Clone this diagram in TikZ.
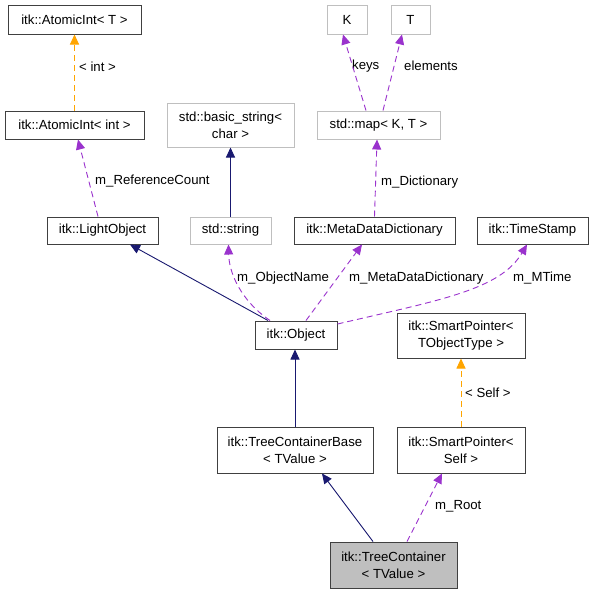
\documentclass[tikz,border=0pt]{standalone}
\usepackage{fontspec}
\setmainfont{Liberation Sans}
\usetikzlibrary{arrows.meta}
\definecolor{EdgeBlue}{HTML}{191970}
\definecolor{EdgePurple}{HTML}{9A32CD}
\definecolor{EdgeOrange}{HTML}{FFA500}
\definecolor{BoxGray}{HTML}{BFBFBF}
\definecolor{BoxEdge}{HTML}{404040}

\tikzset{
  cls/.style={draw=BoxEdge, line width=1pt, fill=white, align=center, inner sep=0pt,
    font=\fontsize{13.2}{17}\selectfont},
  ext/.style={cls, draw=BoxGray},
  inherit/.style={draw=EdgeBlue, line width=0.9pt, -{Triangle[length=10pt,width=9pt,fill=EdgeBlue]}},
  usage/.style={draw=EdgePurple, line width=0.9pt, dash pattern=on 6pt off 4pt,
    -{Triangle[length=10pt,width=9pt,fill=EdgePurple]}},
  tmpl/.style={draw=EdgeOrange, line width=0.9pt, dash pattern=on 6pt off 4pt,
    -{Triangle[length=10pt,width=9pt,fill=EdgeOrange]}},
  lbl/.style={anchor=west, inner sep=0pt, font=\fontsize{13.2}{15}\selectfont}
}

\begin{document}
\begin{tikzpicture}[x=1pt, y=-1pt]
  \useasboundingbox[fill=white] (0,0) rectangle (593,595);

  % classes
  \node[cls, minimum width=133pt, minimum height=29pt] (aintT) at (74.5,19.5) {itk::AtomicInt< T >};
  \node[cls, minimum width=139pt, minimum height=28pt] (aint) at (74.5,125) {itk::AtomicInt< int >};
  \node[cls, minimum width=111pt, minimum height=27pt] (ltobj) at (102.5,230.5) {itk::LightObject};
  \node[ext, minimum width=127pt, minimum height=44pt] (bstr) at (230.5,125) {std::basic\_string<\\char >};
  \node[ext, minimum width=81pt, minimum height=27pt] (str) at (230.5,230.5) {std::string};
  \node[ext, minimum width=40pt, minimum height=29pt] (keyK) at (347,19.5) {K};
  \node[ext, minimum width=39pt, minimum height=29pt] (elemT) at (410.5,19.5) {T};
  \node[ext, minimum width=123pt, minimum height=28pt] (map) at (378.5,125) {std::map< K, T >};
  \node[cls, minimum width=161pt, minimum height=27pt] (mdd) at (374.5,230.5) {itk::MetaDataDictionary};
  \node[cls, minimum width=111pt, minimum height=27pt] (tstamp) at (532.5,230.5) {itk::TimeStamp};
  \node[cls, minimum width=82pt, minimum height=28pt] (obj) at (296,335) {itk::Object};
  \node[cls, minimum width=128pt, minimum height=45pt] (spT) at (461,335.5) {itk::SmartPointer<\\TObjectType >};
  \node[cls, minimum width=156pt, minimum height=46pt] (tcb) at (295,450) {itk::TreeContainerBase\\< TValue >};
  \node[cls, minimum width=128pt, minimum height=46pt] (spSelf) at (461,450) {itk::SmartPointer<\\Self >};
  \node[cls, fill=BoxGray, minimum width=127pt, minimum height=46pt] (tc) at (393.5,565) {itk::TreeContainer\\< TValue >};

  % labels
  \node[lbl] (lint) at (79,67) {< int >};
  \node[lbl] (lref) at (95,181) {m\_ReferenceCount};
  \node[lbl] (lkeys) at (352,66) {keys};
  \node[lbl] (lelem) at (404,66) {elements};
  \node[lbl] (ldict) at (381,182) {m\_Dictionary};
  \node[lbl] (lname) at (237,278) {m\_ObjectName};
  \node[lbl] (lmdd) at (349,278) {m\_MetaDataDictionary};
  \node[lbl] (lmtime) at (513,278) {m\_MTime};
  \node[lbl] (lself) at (465,393) {< Self >};
  \node[lbl] (lroot) at (435,506) {m\_Root};

  % edges
  \draw[tmpl] (aint.north) -- (aintT.south);
  \draw[usage] ([xshift=-4.5pt]ltobj.north) -- ([xshift=3.5pt]aint.south);
  \draw[inherit] (str.north) -- (bstr.south);
  \draw[usage] ([xshift=-12.5pt]map.north) -- ([xshift=-4pt]keyK.south);
  \draw[usage] ([xshift=4.5pt]map.north) -- ([xshift=-8.5pt]elemT.south);
  \draw[usage] (mdd.north) -- ([xshift=-1.5pt]map.south);
  \draw[inherit] ([xshift=-28pt]obj.north) -- ([xshift=27.5pt]ltobj.south);
  \draw[usage] ([xshift=-26pt]obj.north) .. controls (240,300) and (229,272) .. ([xshift=-2pt]str.south);
  \draw[usage] ([xshift=10pt]obj.north) -- ([xshift=-12.5pt]mdd.south);
  \draw[usage] ([yshift=11pt]obj.east) .. controls (440,300) and (500,290) .. ([xshift=-5.5pt]tstamp.south);
  \draw[inherit] (tcb.north) -- ([xshift=-1pt]obj.south);
  \draw[tmpl] (spSelf.north) -- (spT.south);
  \draw[inherit] ([xshift=-20.5pt]tc.north) -- ([xshift=27pt]tcb.south);
  \draw[usage] ([xshift=13.5pt]tc.north) -- ([xshift=-19pt]spSelf.south);
\end{tikzpicture}
\end{document}
